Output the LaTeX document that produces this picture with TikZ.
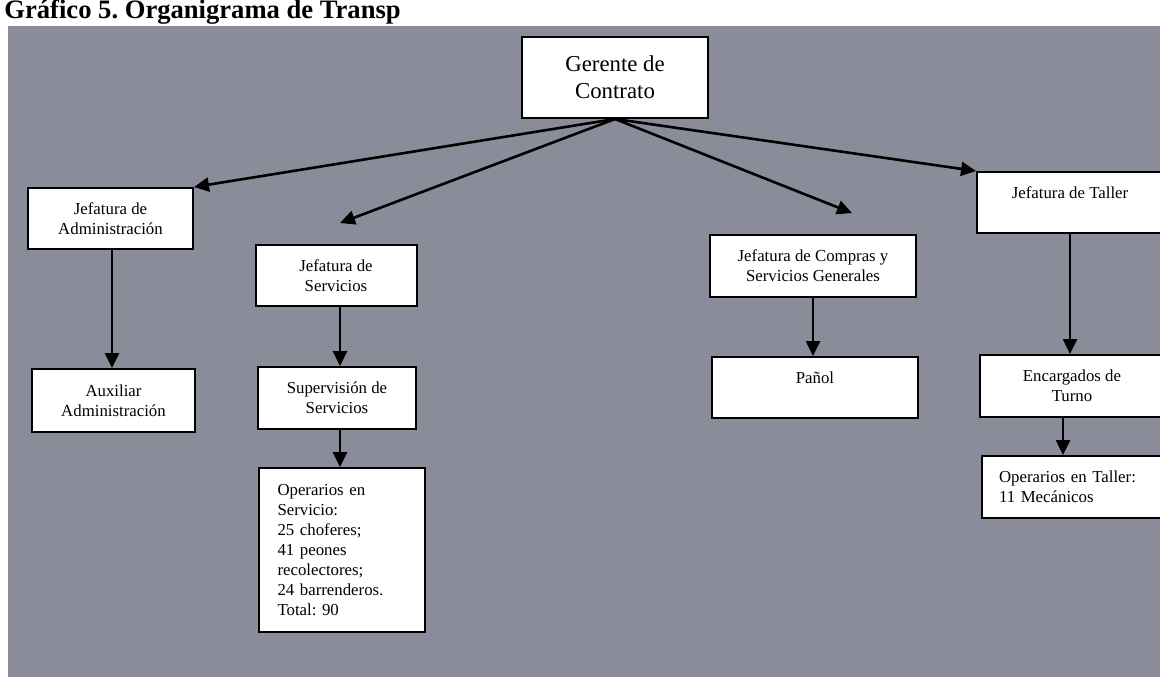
\documentclass[tikz,border=0pt]{standalone}
\usepackage{fontspec}
\setmainfont{Liberation Serif}
\usepackage{xcolor}
\usetikzlibrary{arrows.meta}
\definecolor{fondo}{RGB}{138,140,154}

\begin{document}
\frenchspacing
\begin{tikzpicture}[x=0.5pt, y=-0.5pt,
  caja/.style={draw, line width=1pt, fill=white, inner sep=0pt, align=center, font=\fontsize{8.4}{10}\selectfont},
  flecha/.style={line width=1.3pt, -{Triangle[length=7.5pt,width=7pt]}}]
\useasboundingbox (0,0) rectangle (1160,676);
\clip (0,0) rectangle (1160,676);
\fill[fondo] (8,26) rectangle (1175,690);
\node[anchor=base west, inner sep=0pt, font=\bfseries\fontsize{13.3}{15}\selectfont] (titulo) at (4,18) {Gráfico 5. Organigrama de Transp};
% cajas
\node[caja, minimum width=93pt, minimum height=40.5pt, font=\fontsize{11.4}{13.5}\selectfont] (gerente) at (615,77.5) {Gerente de\\Contrato};
\node[caja, minimum width=82.5pt, minimum height=30.5pt] (jadm) at (110.5,218.5) {Jefatura de\\Administración};
\node[caja, minimum width=81.5pt, minimum height=31.5pt] (aux) at (113.5,400.5) {Auxiliar\\Administración};
\node[caja, minimum width=80.5pt, minimum height=30.5pt] (jserv) at (336,275.5) {Jefatura de\\Servicios};
\node[caja, minimum width=79pt, minimum height=31pt] (superv) at (337,398) {Supervisión de\\Servicios};
\node[caja, text width=64pt, inner xsep=9.5pt, minimum height=82pt, align=left] (operserv) at (341.5,550) {Operarios en\\Servicio:\\25 choferes;\\41 peones\\recolectores;\\24 barrenderos.\\Total: 90};
\node[caja, minimum width=103pt, minimum height=31pt] (jcomp) at (813,266) {Jefatura de Compras y\\Servicios Generales};
\node[caja, minimum width=103pt, minimum height=30.5pt] (panol) at (815,387.5) {Pañol\\\mbox{}};
\node[caja, minimum width=93pt, minimum height=30.5pt] (jtaller) at (1070,202.5) {Jefatura de Taller\\\mbox{}};
\node[caja, minimum width=92pt, minimum height=31pt] (encarg) at (1072,386) {Encargados de\\Turno};
\node[caja, text width=74pt, inner xsep=8.5pt, minimum height=31pt, align=left] (opertaller) at (1073,487) {Operarios en Taller:\\11 Mecánicos};
% flechas
\coordinate (pserv) at (340,223);
\coordinate (pcomp) at (852,213);
\draw[flecha] (gerente.south) -- (jadm.north east);
\draw[flecha] (gerente.south) -- (pserv);
\draw[flecha] (gerente.south) -- (pcomp);
\draw[flecha] (gerente.south) -- (jtaller.north west);
\draw[flecha] ([xshift=0.75pt]jadm.south) -- ([xshift=0.75pt]jadm.south |- aux.north);
\draw[flecha] ([xshift=2pt]jserv.south) -- ([xshift=2pt]jserv.south |- superv.north);
\draw[flecha] ([xshift=1.5pt]superv.south) -- ([xshift=1.5pt]superv.south |- operserv.north);
\draw[flecha] (jcomp.south) -- (jcomp.south |- panol.north);
\draw[flecha] (jtaller.south) -- (jtaller.south |- encarg.north);
\draw[flecha] ([xshift=-4.5pt]encarg.south) -- ([xshift=-4.5pt]encarg.south |- opertaller.north);
\end{tikzpicture}
\end{document}
